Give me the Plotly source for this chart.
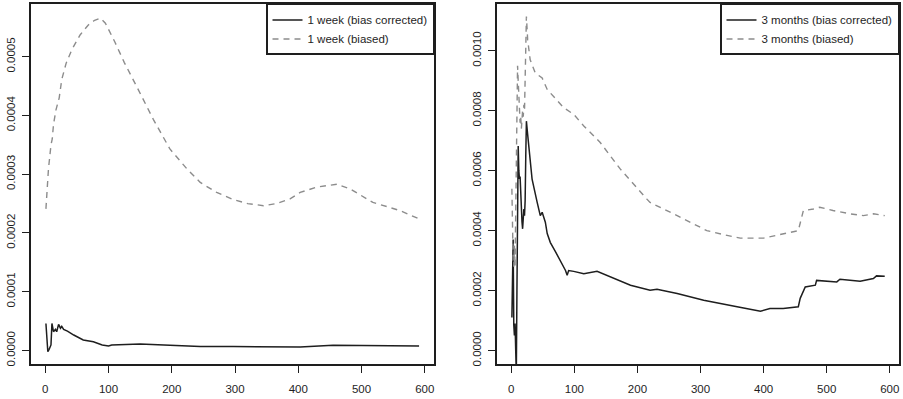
import plotly.graph_objects as go

# Horizon 1 week
wk_x_biased = [1, 2, 3, 5, 7, 9, 11, 13, 17, 22, 26, 33, 42, 55, 68, 78, 87, 95, 110, 125,
               147, 171, 197, 224, 245, 271, 297, 320, 345, 365, 387, 403, 429, 450, 461,
               482, 508, 518, 540, 561, 591]
wk_biased = [2.41, 2.53, 2.75, 3.09, 3.34, 3.50, 3.60, 3.85, 4.10, 4.30, 4.61, 4.89, 5.12,
             5.37, 5.54, 5.62, 5.655, 5.57, 5.25, 4.90, 4.44, 3.93, 3.43, 3.09, 2.86, 2.69,
             2.57, 2.50, 2.465, 2.50, 2.58, 2.69, 2.78, 2.82, 2.83, 2.75, 2.58, 2.52, 2.45,
             2.38, 2.24]
wk_x_corr = [1, 4, 6, 9, 10.5, 13, 16, 18, 21, 24, 26, 29, 35, 45, 60, 76, 90, 100, 105,
             150, 197, 245, 297, 366, 403, 455, 508, 591]
wk_corr = [0.46, -0.02, 0.02, 0.095, 0.46, 0.32, 0.36, 0.32, 0.445, 0.38, 0.41, 0.36, 0.33,
           0.264, 0.18, 0.15, 0.095, 0.078, 0.095, 0.11, 0.09, 0.07, 0.067, 0.055, 0.06,
           0.09, 0.085, 0.078]

# Horizon 3 months
mo_x_biased = [1, 2, 3, 4, 5, 6, 7, 8, 9, 10, 11, 12, 13, 14, 15, 16, 17, 18, 19, 20, 21,
               22, 23, 24, 26, 30, 38, 49, 57, 70, 83, 99, 115, 141, 173, 215, 220, 263,
               310, 340, 363, 400, 431, 455, 463, 479, 489, 510, 537, 558, 574, 592]
mo_biased = [5.4, 3.2, 3.0, 2.8, 3.5, 2.8, 4.5, 6.2, 8.0, 9.5, 9.0, 8.5, 8.2, 7.6, 7.8, 7.4,
             7.7, 8.0, 7.8, 8.2, 8.0, 9.0, 10.0, 11.14, 10.37, 9.70, 9.26, 9.09, 8.71, 8.40,
             8.10, 7.88, 7.49, 6.94, 6.05, 5.05, 4.94, 4.50, 4.00, 3.85, 3.75, 3.75, 3.89,
             4.00, 4.67, 4.72, 4.78, 4.67, 4.56, 4.50, 4.56, 4.50]
mo_x_corr = [1, 2, 3, 4, 5, 6, 7, 8, 9, 10, 11, 12, 13, 14, 15, 16, 17, 18, 19, 20, 21, 22,
             23, 24, 26, 28, 33, 41, 46, 49, 54, 57, 62, 70, 78, 86, 88.6, 91, 99, 106, 115,
             136, 157, 189, 220, 231, 263, 305, 358, 395, 410, 431, 455, 458, 466, 482, 484,
             516, 521, 553, 574, 579, 592]
mo_corr = [1.1, 2.9, 3.7, 0.85, 0.5, 0.9, -0.3, -0.8, 2.0, 4.5, 6.82, 6.0, 5.72, 5.8, 5.2,
           4.5, 4.3, 4.06, 4.4, 4.72, 4.5, 5.0, 6.5, 7.65, 7.2, 6.82, 5.72, 4.95, 4.5, 4.61,
           4.28, 3.9, 3.6, 3.3, 3.0, 2.67, 2.51, 2.67, 2.64, 2.6, 2.56, 2.64, 2.45, 2.18,
           2.01, 2.04, 1.90, 1.68, 1.46, 1.31, 1.40, 1.40, 1.46, 1.74, 2.12, 2.18, 2.34,
           2.29, 2.38, 2.31, 2.40, 2.49, 2.48]

SCALE = 1e-4
x_ticks = [0, 100, 200, 300, 400, 500, 600]
wk_yticks = [0.0, 0.0001, 0.0002, 0.0003, 0.0004, 0.0005]
mo_yticks = [0.0, 0.0002, 0.0004, 0.0006, 0.0008, 0.0010]

INK = "#1e1e1e"
GREY = "#8c8c8c"
FONT = dict(family="Liberation Sans, Arial, sans-serif", size=11.5, color=INK)
W, H = 903, 399

fig = go.Figure()

def add_pair(xs_c, ys_c, xs_b, ys_b, label, xa, ya, legend):
    fig.add_trace(go.Scatter(x=xs_c, y=[v * SCALE for v in ys_c], mode="lines",
                             line=dict(color=INK, width=1.5),
                             name=f"{label} (bias corrected)", xaxis=xa, yaxis=ya,
                             legend=legend))
    fig.add_trace(go.Scatter(x=xs_b, y=[v * SCALE for v in ys_b], mode="lines",
                             line=dict(color=GREY, width=1.4, dash="6px,5px"),
                             name=f"{label} (biased)", xaxis=xa, yaxis=ya,
                             legend=legend))

add_pair(wk_x_corr, wk_corr, wk_x_biased, wk_biased, "1 week", "x", "y", "legend")
add_pair(mo_x_corr, mo_corr, mo_x_biased, mo_biased, "3 months", "x2", "y2", "legend2")

ydom = [1 - 366 / H, 1 - 4 / H]
axis_common = dict(showline=True, mirror=True, linecolor=INK, linewidth=1.5,
                   ticks="outside", ticklen=7, tickwidth=1.2, tickcolor=INK,
                   showgrid=False, zeroline=False, tickfont=FONT)

fig.update_layout(
    width=W, height=H,
    margin=dict(l=0, r=0, t=0, b=0),
    paper_bgcolor="white", plot_bgcolor="white",
    xaxis=dict(domain=[31 / W, 434 / W], anchor="y", range=[-22.6, 614.6],
               tickvals=x_ticks, ticklabelstandoff=6, **axis_common),
    yaxis=dict(domain=ydom, anchor="x", range=[-0.0000232, 0.0005897],
               tickvals=wk_yticks, tickformat=".4f", tickangle=-90,
               ticklabelstandoff=3, **axis_common),
    xaxis2=dict(domain=[497 / W, 899 / W], anchor="y2", range=[-22.6, 614.6],
                tickvals=x_ticks, ticklabelstandoff=6, **axis_common),
    yaxis2=dict(domain=ydom, anchor="x2", range=[-0.0000455, 0.001156],
                tickvals=mo_yticks, tickformat=".4f", tickangle=-90,
                ticklabelstandoff=3, **axis_common),
    legend=dict(x=434 / W, y=1 - 4 / H, xanchor="right", yanchor="top",
                bgcolor="white", bordercolor=INK, borderwidth=1.5, font=FONT,
                tracegroupgap=0),
    legend2=dict(x=899 / W, y=1 - 4 / H, xanchor="right", yanchor="top",
                 bgcolor="white", bordercolor=INK, borderwidth=1.5, font=FONT,
                 tracegroupgap=0),
    showlegend=True,
)

fig.write_html("out.html")
